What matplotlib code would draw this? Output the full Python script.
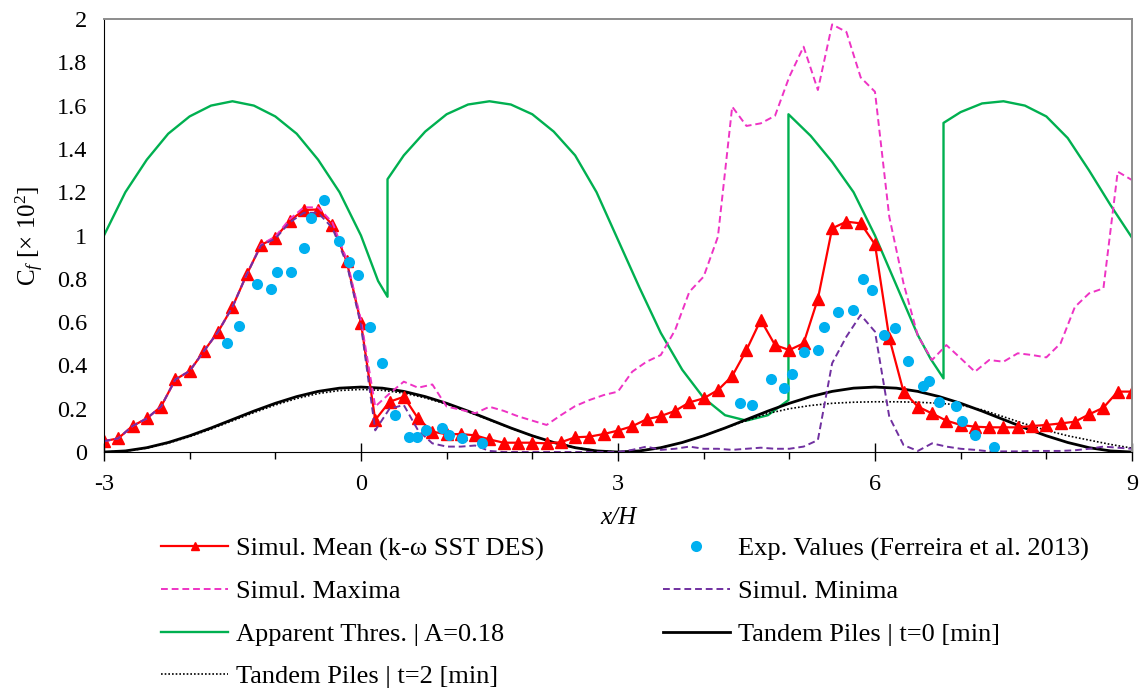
import numpy as np
import matplotlib
matplotlib.use("Agg")
import matplotlib.pyplot as plt

plt.rcParams["font.family"] = ["Liberation Serif", "DejaVu Serif"]
plt.rcParams["mathtext.fontset"] = "custom"
plt.rcParams["mathtext.rm"] = "Liberation Serif"
plt.rcParams["mathtext.it"] = "Liberation Serif:italic"

# stations of the simulation (every 1/6 H from -3 to 9)
sim_x = np.linspace(-3, 9, 73)

sim_mean = [0.05, 0.063, 0.12, 0.155, 0.21, 0.335, 0.374, 0.466, 0.556, 0.67, 0.82, 0.956,
            0.99, 1.067, 1.118, 1.12, 1.05, 0.88, 0.597, 0.148, 0.232, 0.255, 0.155, 0.094,
            0.082, 0.083, 0.077, 0.058, 0.043, 0.043, 0.043, 0.04, 0.045, 0.068, 0.071, 0.083,
            0.099, 0.119, 0.151, 0.166, 0.19, 0.229, 0.248, 0.286, 0.351, 0.471, 0.61, 0.494,
            0.471, 0.502, 0.707, 1.033, 1.064, 1.056, 0.959, 0.527, 0.279, 0.21, 0.178, 0.145,
            0.125, 0.117, 0.114, 0.114, 0.114, 0.12, 0.125, 0.132, 0.14, 0.174, 0.205, 0.279,
            0.279]

sim_max = [0.05, 0.063, 0.12, 0.155, 0.21, 0.335, 0.374, 0.466, 0.556, 0.67, 0.82, 0.958,
           0.995, 1.075, 1.13, 1.13, 1.06, 0.89, 0.61, 0.21, 0.27, 0.325, 0.297, 0.312,
           0.21, 0.195, 0.179, 0.209, 0.19, 0.165, 0.145, 0.125, 0.17, 0.212, 0.24, 0.263,
           0.279, 0.371, 0.417, 0.448, 0.563, 0.74, 0.81, 0.994, 1.595, 1.506, 1.518, 1.553,
           1.733, 1.872, 1.672, 1.975, 1.94, 1.73, 1.664, 1.087, 0.779, 0.537, 0.425, 0.494,
           0.433, 0.371, 0.425, 0.417, 0.456, 0.448, 0.437, 0.502, 0.67, 0.733, 0.756, 1.295,
           1.256]

sim_min = [0.05, 0.063, 0.12, 0.155, 0.21, 0.335, 0.374, 0.466, 0.556, 0.67, 0.82, 0.954,
           0.985, 1.06, 1.105, 1.105, 1.035, 0.87, 0.585, 0.1, 0.2, 0.217, 0.1, 0.04,
           0.025, 0.025, 0.03, 0.005, 0.0, 0.0, 0.0, 0.0, 0.0, 0.0, 0.0, 0.0,
           0.0, 0.01, 0.025, 0.01, 0.015, 0.025, 0.015, 0.015, 0.01, 0.015, 0.02, 0.015,
           0.015, 0.025, 0.055, 0.41, 0.533, 0.633, 0.556, 0.163, 0.032, 0.005, 0.04, 0.025,
           0.015, 0.01, 0.003, 0.003, 0.003, 0.005, 0.005, 0.005, 0.008, 0.015, 0.025, 0.02,
           0.015]

exp_x = [-1.56, -1.42, -1.21, -1.05, -0.98, -0.82, -0.67, -0.58, -0.43, -0.26, -0.14, -0.03,
         0.11, 0.24, 0.40, 0.56, 0.65, 0.76, 0.95, 1.03, 1.18, 1.41,
         4.42, 4.57, 4.79, 4.94, 5.03, 5.17, 5.33, 5.40, 5.57, 5.74, 5.86, 5.97,
         6.11, 6.23, 6.39, 6.56, 6.63, 6.75, 6.95, 7.02, 7.17, 7.39]
exp_y = [0.505, 0.583, 0.777, 0.751, 0.831, 0.833, 0.944, 1.082, 1.162, 0.976, 0.876, 0.818,
         0.576, 0.413, 0.171, 0.068, 0.068, 0.102, 0.109, 0.079, 0.063, 0.043,
         0.225, 0.217, 0.337, 0.297, 0.36, 0.463, 0.471, 0.579, 0.645, 0.656, 0.80, 0.748,
         0.54, 0.574, 0.42, 0.305, 0.33, 0.229, 0.212, 0.145, 0.079, 0.025]

thres_x = [-3, -2.75, -2.5, -2.25, -2, -1.75, -1.5, -1.25, -1, -0.75, -0.5, -0.25, 0, 0.2, 0.31,
           0.31, 0.5, 0.75, 1.0, 1.25, 1.5, 1.75, 2.0, 2.25, 2.5, 2.75, 3.0, 3.25, 3.5, 3.75,
           4.0, 4.25, 4.5, 4.75, 4.99,
           4.99, 5.25, 5.5, 5.75, 6.0, 6.25, 6.5, 6.65, 6.8,
           6.8, 7.0, 7.25, 7.5, 7.75, 8.0, 8.25, 8.5, 8.75, 9.0]
thres_y = [1.0, 1.2, 1.35, 1.47, 1.55, 1.60, 1.62, 1.60, 1.55, 1.47, 1.35, 1.2, 1.0, 0.79, 0.717,
           1.26, 1.37, 1.48, 1.56, 1.605, 1.62, 1.605, 1.56, 1.48, 1.37, 1.2, 0.98, 0.76, 0.55, 0.38,
           0.25, 0.17, 0.145, 0.17, 0.24,
           1.56, 1.46, 1.34, 1.2, 1.0, 0.77, 0.54, 0.43, 0.34,
           1.52, 1.57, 1.61, 1.62, 1.60, 1.55, 1.45, 1.30, 1.14, 0.99]

pile_x = np.linspace(-3, 9, 49)
pile_t0 = [0.0, 0.005, 0.020, 0.044, 0.075, 0.111, 0.150, 0.189, 0.225, 0.256, 0.280, 0.295, 0.300,
           0.295, 0.280, 0.256, 0.225, 0.189, 0.150, 0.111, 0.075, 0.044, 0.020, 0.005, 0.0,
           0.005, 0.020, 0.044, 0.075, 0.111, 0.150, 0.189, 0.225, 0.256, 0.280, 0.295, 0.300,
           0.295, 0.280, 0.256, 0.225, 0.189, 0.150, 0.111, 0.075, 0.044, 0.020, 0.005, 0.0]
pile_t2 = [0.0, 0.004, 0.018, 0.041, 0.071, 0.106, 0.144, 0.182, 0.217, 0.247, 0.270, 0.284, 0.289,
           0.285, 0.272, 0.250, 0.221, 0.186, 0.148, 0.110, 0.075, 0.045, 0.021, 0.006, 0.0,
           0.005, 0.020, 0.044, 0.075, 0.111, 0.145, 0.178, 0.200, 0.215, 0.225, 0.230, 0.232,
           0.232, 0.230, 0.225, 0.217, 0.195, 0.163, 0.130, 0.100, 0.075, 0.055, 0.035, 0.018]

fig = plt.figure(figsize=(11.41, 6.88), dpi=100)
ax = fig.add_axes([0.0911, 0.343, 0.901, 0.6294])

h_thr, = ax.plot(thres_x, thres_y, color="#00B050", lw=1.7, label="Apparent Thres. | A=0.18")
h_t0, = ax.plot(pile_x, pile_t0, color="black", lw=2.0, label="Tandem Piles | t=0 [min]")
h_t2, = ax.plot(pile_x, pile_t2, color="black", lw=1.2, ls=(0, (1, 1.2)),
                label="Tandem Piles | t=2 [min]")
h_mean, = ax.plot(sim_x, sim_mean, color="#FF0000", lw=1.6, marker="^", ms=8,
                  label="Simul. Mean (k-\u03c9 SST DES)")
h_max, = ax.plot(sim_x, sim_max, color="#EE33C4", lw=1.4, ls=(0, (3.5, 2)),
                 label="Simul. Maxima")
h_min, = ax.plot(sim_x, sim_min, color="#7030A0", lw=1.4, ls=(0, (3.5, 2)),
                 label="Simul. Minima")
h_exp, = ax.plot(exp_x, exp_y, ls="none", marker="o", ms=8, color="#00B0F0", mec="none",
                 label="Exp. Values (Ferreira et al. 2013)")

ax.set_xlim(-3, 9)
ax.set_ylim(0, 2)
ax.set_xticks([-3, 0, 3, 6, 9])
ax.set_xticklabels(["-3", "0", "3", "6", "9"])
ax.set_xticks(np.arange(-3, 10, 1), minor=True)
ax.set_yticks(np.arange(0, 2.01, 0.2))
ax.set_yticklabels(["0", "0.2", "0.4", "0.6", "0.8", "1", "1.2", "1.4", "1.6", "1.8", "2"])
ax.tick_params(axis="x", which="major", direction="inout", length=13, width=1,
               labelsize=17.5, pad=9)
ax.tick_params(axis="x", which="minor", direction="out", length=5, width=1)
ax.tick_params(axis="y", length=0, labelsize=17.5, pad=12)

for s in ["top", "right"]:
    ax.spines[s].set_color("#8c8c8c")
    ax.spines[s].set_linewidth(1.4)
ax.spines["left"].set_color("black")
ax.spines["bottom"].set_color("black")

ax.set_xlabel("x/H", fontsize=18, fontstyle="italic", labelpad=9)
ax.set_ylabel(r"$\mathrm{C}_{f}$ [× 10$^{2}$]", fontsize=18, labelpad=8)

handles = [h_mean, h_max, h_thr, h_t2, h_exp, h_min, h_t0]
leg = fig.legend(handles=handles, labels=[h.get_label() for h in handles], ncol=2,
                 loc="upper left", bbox_to_anchor=(161 / 1141, 1 - 537 / 688),
                 frameon=False, fontsize=19, handlelength=2.54, handletextpad=0.3,
                 labelspacing=0.72, columnspacing=4.5, borderpad=0, borderaxespad=0)
# smaller triangle in the legend sample, like the original
leg.legend_handles[0].set_markersize(6)

fig.savefig("out.png", dpi=100)
